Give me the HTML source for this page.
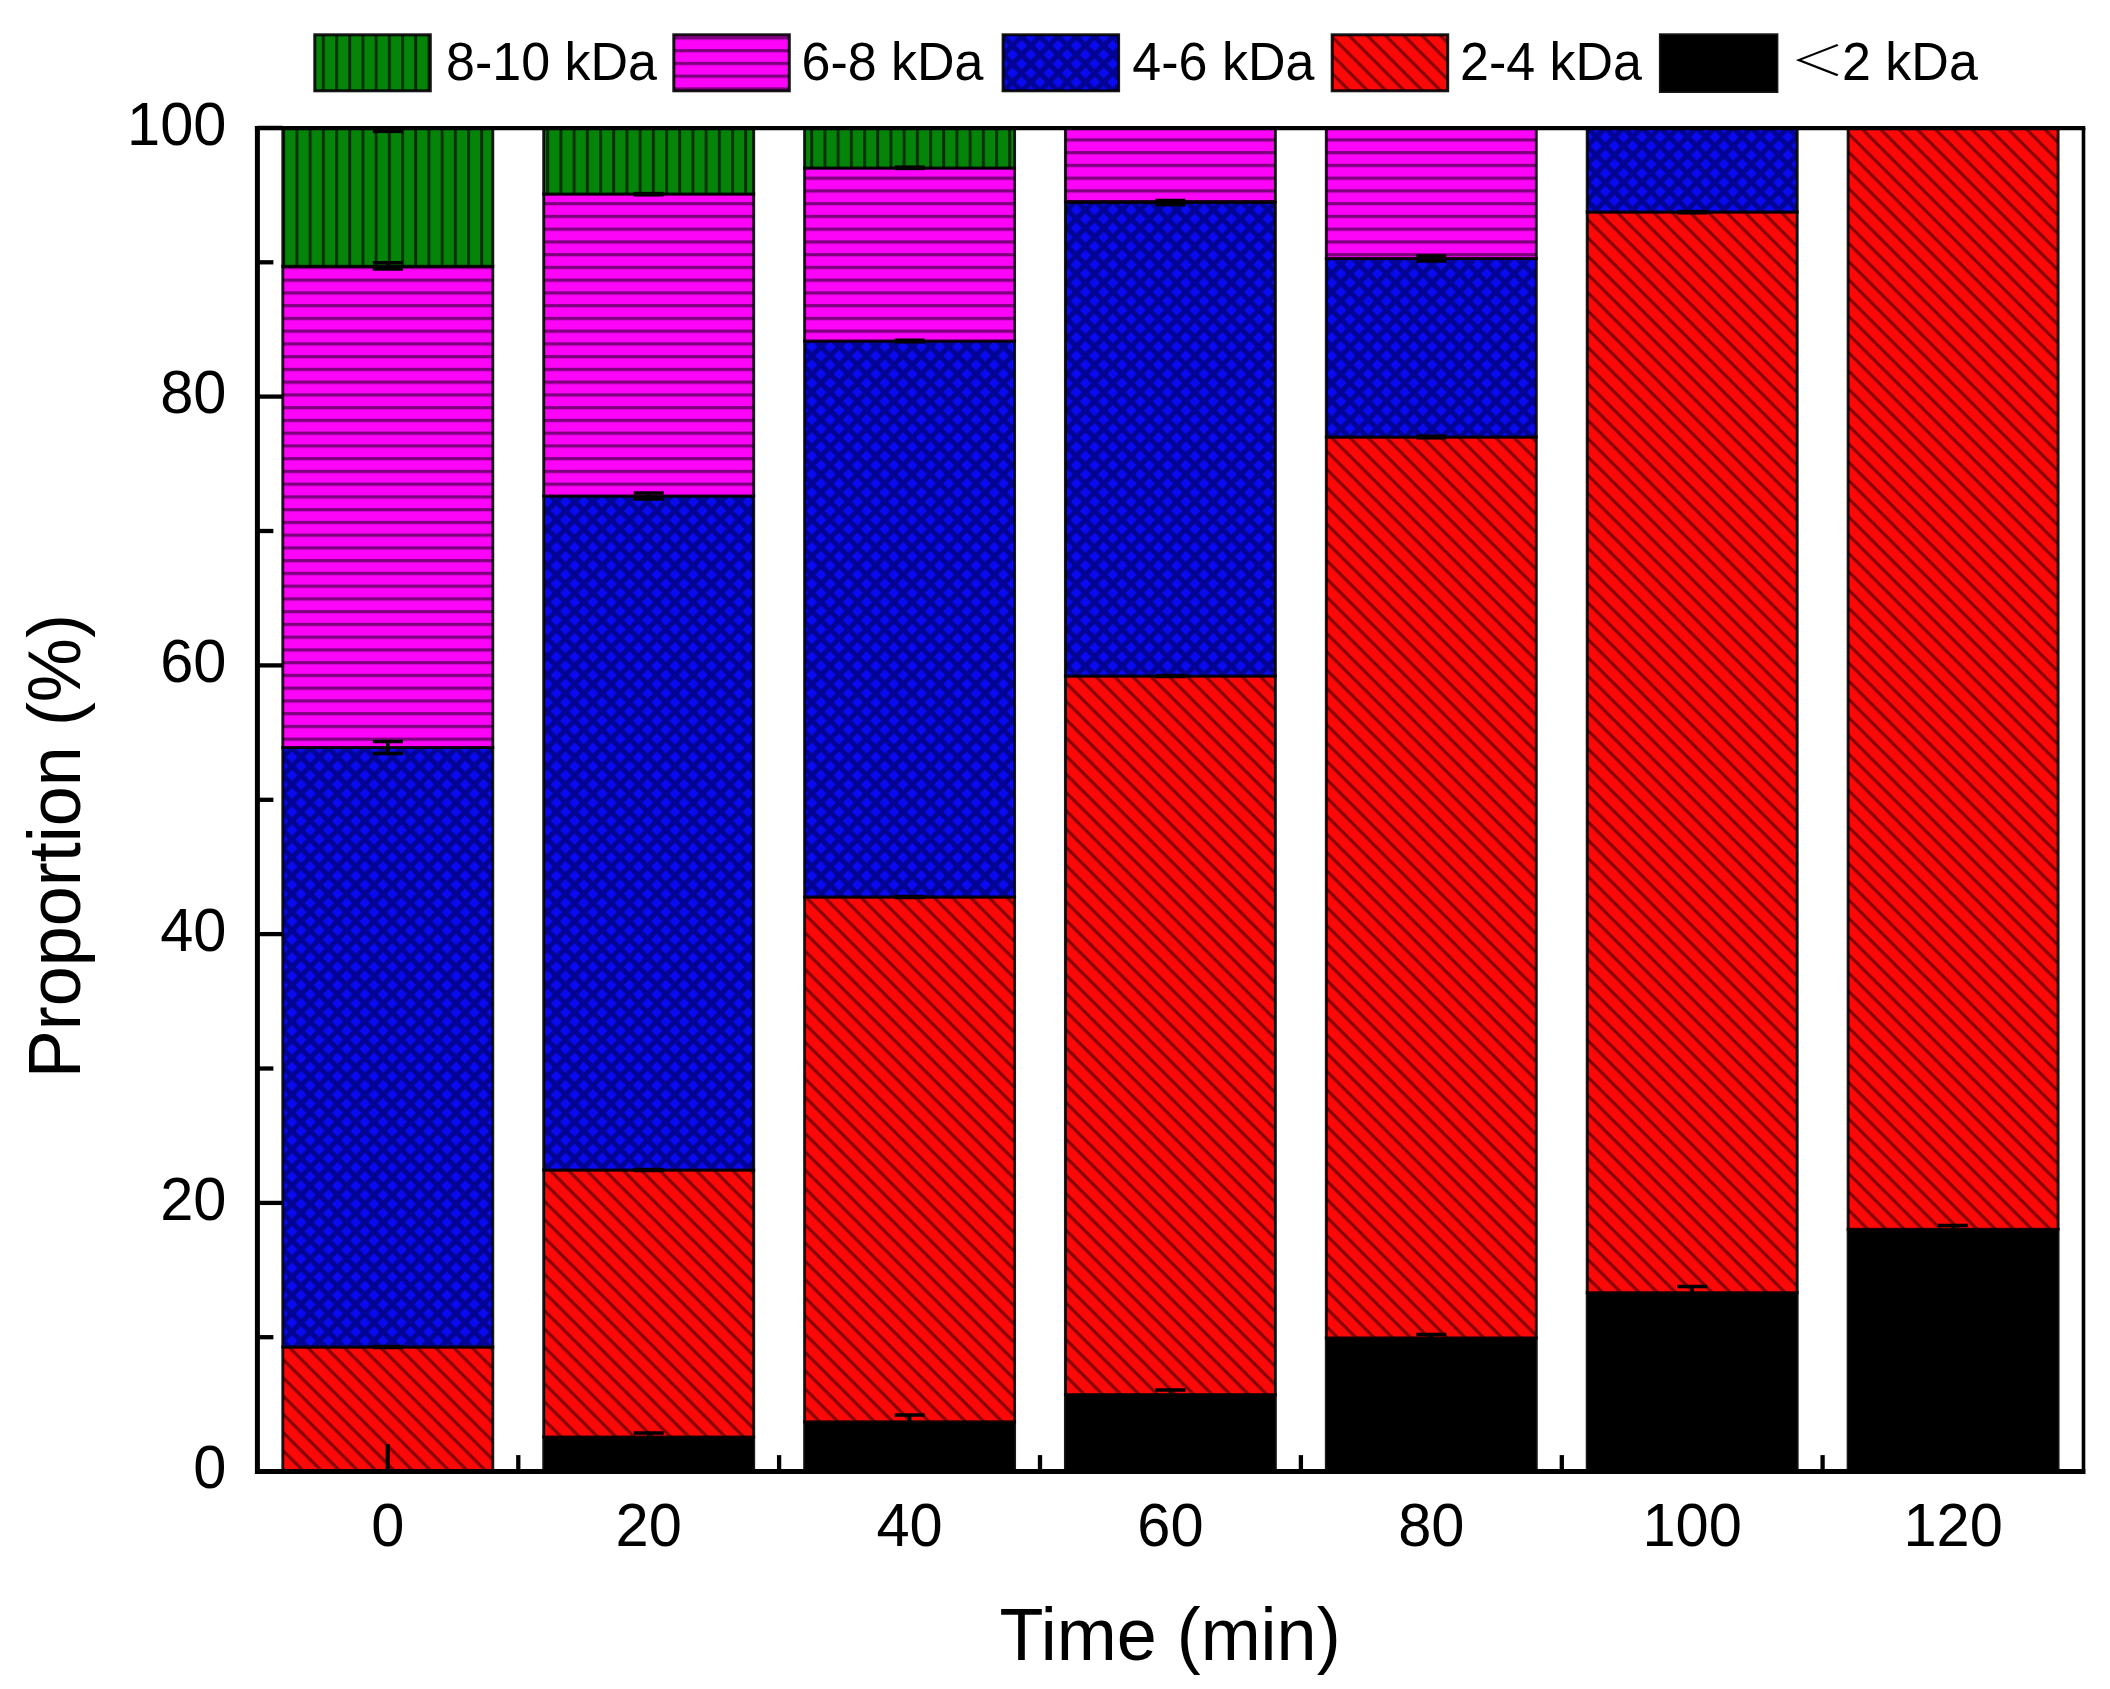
<!DOCTYPE html>
<html lang="en"><head><meta charset="utf-8"><title>Molecular weight distribution over time</title>
<style>html,body{margin:0;padding:0;background:#fff}body{width:2110px;height:1689px;overflow:hidden}svg{display:block;filter:blur(0.7px)}text{font-family:"Liberation Sans","Noto Sans CJK SC",sans-serif;fill:#000}</style>
</head><body>
<svg width="2110" height="1689" viewBox="0 0 2110 1689">
<defs>
<pattern id="hg" patternUnits="userSpaceOnUse" x="295.40" y="0" width="13.20" height="20"><rect width="13.20" height="20" fill="#05840a"/><rect x="0" y="0" width="3" height="20" fill="#002f00"/></pattern>
<pattern id="hm" patternUnits="userSpaceOnUse" x="0" y="278.60" width="20" height="12.75"><rect width="20" height="12.75" fill="#fb04f8"/><rect x="0" y="0" width="20" height="3.2" fill="#7d007d"/></pattern>
<pattern id="hb" patternUnits="userSpaceOnUse" x="0" y="0" width="18.243" height="18.243"><rect width="18.243" height="18.243" fill="#0a0af0"/><path d="M-2,-2 L20.243,20.243 M20.243,-2 L-2,20.243 M9.122,-9.122 L27.365,9.122 M-9.122,9.122 L9.122,27.365 M-9.122,9.122 L9.122,-9.122 M9.122,27.365 L27.365,9.122" stroke="#000060" stroke-opacity="0.64" stroke-width="5.1" fill="none"/></pattern>
<pattern id="hr" patternUnits="userSpaceOnUse" x="0" y="0" width="18.243" height="18.243"><rect width="18.243" height="18.243" fill="#fb0808"/><path d="M-2,-2 L20.243,20.243 M9.122,-9.122 L27.365,9.122 M-9.122,9.122 L9.122,27.365" stroke="#840000" stroke-width="3.0" fill="none"/></pattern>
</defs>
<rect width="2110" height="1689" fill="#fff"/>
<g stroke="#000" stroke-width="2.9" stroke-opacity="0.9">
<rect x="282.8" y="1347.0" width="210.0" height="124.6" fill="url(#hr)"/>
<rect x="282.8" y="747.5" width="210.0" height="599.5" fill="url(#hb)"/>
<rect x="282.8" y="266.3" width="210.0" height="481.2" fill="url(#hm)"/>
<rect x="282.8" y="127.9" width="210.0" height="138.4" fill="url(#hg)"/>
<rect x="543.7" y="1437.0" width="210.0" height="34.6" fill="#000"/>
<rect x="543.7" y="1170.0" width="210.0" height="267.0" fill="url(#hr)"/>
<rect x="543.7" y="496.0" width="210.0" height="674.0" fill="url(#hb)"/>
<rect x="543.7" y="194.0" width="210.0" height="302.0" fill="url(#hm)"/>
<rect x="543.7" y="127.9" width="210.0" height="66.1" fill="url(#hg)"/>
<rect x="804.6" y="1421.8" width="210.0" height="49.8" fill="#000"/>
<rect x="804.6" y="897.0" width="210.0" height="524.8" fill="url(#hr)"/>
<rect x="804.6" y="341.0" width="210.0" height="556.0" fill="url(#hb)"/>
<rect x="804.6" y="168.0" width="210.0" height="173.0" fill="url(#hm)"/>
<rect x="804.6" y="127.9" width="210.0" height="40.1" fill="url(#hg)"/>
<rect x="1065.4" y="1394.6" width="210.0" height="77.0" fill="#000"/>
<rect x="1065.4" y="676.0" width="210.0" height="718.6" fill="url(#hr)"/>
<rect x="1065.4" y="202.5" width="210.0" height="473.5" fill="url(#hb)"/>
<rect x="1065.4" y="127.9" width="210.0" height="73.6" fill="url(#hm)"/>
<rect x="1326.3" y="1337.9" width="210.0" height="133.7" fill="#000"/>
<rect x="1326.3" y="437.0" width="210.0" height="900.9" fill="url(#hr)"/>
<rect x="1326.3" y="258.5" width="210.0" height="178.5" fill="url(#hb)"/>
<rect x="1326.3" y="127.9" width="210.0" height="130.6" fill="url(#hm)"/>
<rect x="1587.2" y="1292.7" width="210.0" height="178.9" fill="#000"/>
<rect x="1587.2" y="212.0" width="210.0" height="1080.7" fill="url(#hr)"/>
<rect x="1587.2" y="127.9" width="210.0" height="84.1" fill="url(#hb)"/>
<rect x="1848.1" y="1229.3" width="210.0" height="242.3" fill="#000"/>
<rect x="1848.1" y="127.9" width="210.0" height="1101.4" fill="url(#hr)"/>
</g>
<g stroke="#000" stroke-width="3.6" fill="none">
<path d="M372.8,131.5 H402.8" stroke-width="3.2"/>
<path d="M372.8,262.8 H402.8 M372.8,269.0 H402.8 M387.8,262.8 V269.0"/>
<path d="M372.8,741.5 H402.8 M372.8,753.5 H402.8 M387.8,741.5 V753.5"/>
<path d="M372.8,1347.0 H402.8" stroke-width="4.4"/>
<path d="M633.7,194.2 H663.7" stroke-width="4.7"/>
<path d="M633.7,493.0 H663.7 M633.7,499.0 H663.7 M648.7,493.0 V499.0"/>
<path d="M633.7,1170.0 H663.7" stroke-width="4.4"/>
<path d="M633.7,1433.0 H663.7 M633.7,1440.0 H663.7 M648.7,1433.0 V1440.0"/>
<path d="M894.6,167.8 H924.6" stroke-width="4.7"/>
<path d="M894.6,341.0 H924.6" stroke-width="5.0"/>
<path d="M894.6,897.0 H924.6" stroke-width="4.4"/>
<path d="M894.6,1415.0 H924.6 M894.6,1428.0 H924.6 M909.6,1415.0 V1428.0"/>
<path d="M1155.4,200.5 H1185.4 M1155.4,204.5 H1185.4 M1170.4,200.5 V204.5"/>
<path d="M1155.4,676.0 H1185.4" stroke-width="4.4"/>
<path d="M1155.4,1390.0 H1185.4 M1155.4,1399.0 H1185.4 M1170.4,1390.0 V1399.0"/>
<path d="M1416.3,256.0 H1446.3 M1416.3,261.0 H1446.3 M1431.3,256.0 V261.0"/>
<path d="M1416.3,437.0 H1446.3" stroke-width="5.0"/>
<path d="M1416.3,1334.5 H1446.3 M1416.3,1341.0 H1446.3 M1431.3,1334.5 V1341.0"/>
<path d="M1677.2,212.2 H1707.2" stroke-width="4.7"/>
<path d="M1677.2,1286.5 H1707.2 M1677.2,1299.0 H1707.2 M1692.2,1286.5 V1299.0"/>
<path d="M1938.1,1225.5 H1968.1 M1938.1,1234.0 H1968.1 M1953.1,1225.5 V1234.0"/>
</g>
<g stroke="#000" fill="none">
<path d="M257.4,126.1 V1471.6 H2085.3" stroke-width="5" stroke-linejoin="miter"/>
<path d="M254.9,128.2 H2085.3" stroke-width="4.2"/>
<path d="M2083.5,127.9 V1474.1" stroke-width="3.6"/>
<path d="M257.4,1471.6 h25.0" stroke-width="4.3"/>
<path d="M257.4,1337.2 h16.0" stroke-width="4.3"/>
<path d="M257.4,1202.9 h25.0" stroke-width="4.3"/>
<path d="M257.4,1068.5 h16.0" stroke-width="4.3"/>
<path d="M257.4,934.1 h25.0" stroke-width="4.3"/>
<path d="M257.4,799.8 h16.0" stroke-width="4.3"/>
<path d="M257.4,665.4 h25.0" stroke-width="4.3"/>
<path d="M257.4,531.0 h16.0" stroke-width="4.3"/>
<path d="M257.4,396.6 h25.0" stroke-width="4.3"/>
<path d="M257.4,262.3 h16.0" stroke-width="4.3"/>
<path d="M257.4,127.9 h25.0" stroke-width="4.3"/>
<path d="M387.8,1471.6 v-27.5" stroke-width="4.3"/>
<path d="M518.3,1471.6 v-16.5" stroke-width="4.3"/>
<path d="M648.7,1471.6 v-27.5" stroke-width="4.3"/>
<path d="M779.1,1471.6 v-16.5" stroke-width="4.3"/>
<path d="M909.6,1471.6 v-27.5" stroke-width="4.3"/>
<path d="M1040.0,1471.6 v-16.5" stroke-width="4.3"/>
<path d="M1170.4,1471.6 v-27.5" stroke-width="4.3"/>
<path d="M1300.9,1471.6 v-16.5" stroke-width="4.3"/>
<path d="M1431.3,1471.6 v-27.5" stroke-width="4.3"/>
<path d="M1561.8,1471.6 v-16.5" stroke-width="4.3"/>
<path d="M1692.2,1471.6 v-27.5" stroke-width="4.3"/>
<path d="M1822.6,1471.6 v-16.5" stroke-width="4.3"/>
<path d="M1953.1,1471.6 v-27.5" stroke-width="4.3"/>
</g>
<g font-size="59.6">
<text transform="translate(226.5,1488.4) scale(1,1.035)" text-anchor="end">0</text>
<text transform="translate(226.5,1219.7) scale(1,1.035)" text-anchor="end">20</text>
<text transform="translate(226.5,950.9) scale(1,1.035)" text-anchor="end">40</text>
<text transform="translate(226.5,682.2) scale(1,1.035)" text-anchor="end">60</text>
<text transform="translate(226.5,413.4) scale(1,1.035)" text-anchor="end">80</text>
<text transform="translate(226.5,144.7) scale(1,1.035)" text-anchor="end">100</text>
<text transform="translate(387.8,1546.1) scale(1,1.035)" text-anchor="middle">0</text>
<text transform="translate(648.7,1546.1) scale(1,1.035)" text-anchor="middle">20</text>
<text transform="translate(909.6,1546.1) scale(1,1.035)" text-anchor="middle">40</text>
<text transform="translate(1170.4,1546.1) scale(1,1.035)" text-anchor="middle">60</text>
<text transform="translate(1431.3,1546.1) scale(1,1.035)" text-anchor="middle">80</text>
<text transform="translate(1692.2,1546.1) scale(1,1.035)" text-anchor="middle">100</text>
<text transform="translate(1953.1,1546.1) scale(1,1.035)" text-anchor="middle">120</text>
</g>
<text transform="translate(1170,1660.2) scale(1,1.030)" font-size="72" text-anchor="middle">Time (min)</text>
<text transform="translate(79.6,846.2) rotate(-90) scale(1,1.020)" font-size="72" text-anchor="middle">Proportion (%)</text>
<g stroke="#000" stroke-width="3" stroke-opacity="0.9">
<rect x="314.8" y="34.8" width="115.5" height="56" fill="url(#hg)"/>
<rect x="673.8" y="34.8" width="115.5" height="56" fill="url(#hm)"/>
<rect x="1003.1" y="34.8" width="115.5" height="56" fill="url(#hb)"/>
<rect x="1332.2" y="34.8" width="115.5" height="56" fill="url(#hr)"/>
<rect x="1660.4" y="34.8" width="116.5" height="56.7" fill="#000"/>
</g>
<g font-size="52">
<text transform="translate(446.0,80.3) scale(1,1.035)">8-10 kDa</text>
<text transform="translate(801.5,80.3) scale(1,1.035)">6-8 kDa</text>
<text transform="translate(1132.3,80.3) scale(1,1.035)">4-6 kDa</text>
<text transform="translate(1460.0,80.3) scale(1,1.035)">2-4 kDa</text>
<text transform="translate(1790.2,76.4) scale(1.05,0.8)" font-size="52" font-weight="300">＜</text>
<text transform="translate(1842,80.3) scale(1,1.035)">2 kDa</text>
</g>
</svg></body></html>
